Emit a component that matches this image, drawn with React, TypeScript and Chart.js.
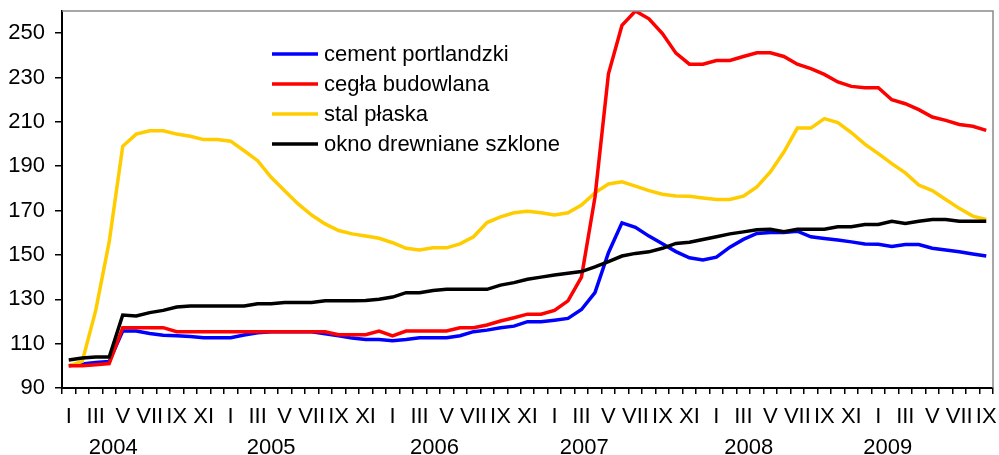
import React, { useEffect, useRef } from 'react';
import { Chart, registerables } from 'chart.js';

Chart.register(...registerables);

const FONT = '"Liberation Sans", Arial, sans-serif';
const FONT_SIZE = 22;

// ---- data ----
const years = ['2004', '2005', '2006', '2007', '2008', '2009'];
const monthTickLabels = ['I', '', 'III', '', 'V', '', 'VII', '', 'IX', '', 'XI', ''];
const monthsPerYear = [12, 12, 12, 12, 12, 9];
const yTickValues = [90, 110, 130, 150, 170, 190, 210, 230, 250];

const cement = [
  100, 100.8, 101.5, 102, 115.7, 115.7, 114.6, 113.8, 113.6, 113.2, 112.7, 112.7,
  112.7, 113.9, 114.9, 115.4, 115.4, 115.4, 115.4, 114.5, 113.5, 112.5, 111.9, 111.9,
  111.3, 111.9, 112.7, 112.7, 112.7, 113.6, 115.4, 116.1, 117.2, 117.9, 119.9, 119.9,
  120.6, 121.4, 125.4, 133, 151, 164.5, 162.5, 158.5, 155, 151.5, 148.7, 147.7,
  149, 153.5, 157, 159.7, 160.1, 160.1, 160.7, 158.2, 157.4, 156.7, 155.9, 154.9,
  154.8, 153.8, 154.7, 154.7, 153, 152.2, 151.4, 150.4, 149.5,
];
const cegla = [
  100, 100, 100.5, 101, 117.2, 117.2, 117.2, 117.2, 115.4, 115.4, 115.4, 115.4,
  115.4, 115.4, 115.4, 115.4, 115.4, 115.4, 115.4, 115.4, 114, 114, 114, 115.7,
  113.5, 115.7, 115.7, 115.7, 115.7, 117.2, 117.2, 118.4, 120.2, 121.7, 123.3, 123.3,
  125, 129.3, 140, 176, 231.7, 253.5, 260, 256.5, 249.8, 241, 236, 236,
  237.7, 237.7, 239.5, 241.2, 241.2, 239.5, 236, 234, 231.4, 228, 226, 225.4,
  225.4, 220, 218.2, 215.5, 212.2, 210.7, 208.8, 208, 206.2,
];
const stal = [
  100, 102, 125, 156, 199, 204.5, 206, 206, 204.5, 203.5, 202, 202,
  201.3, 197, 192.5, 185, 179, 173, 168, 164, 161, 159.5, 158.5, 157.5,
  155.5, 153, 152.2, 153.2, 153.2, 155, 158.2, 164.6, 167.2, 169, 169.7, 169,
  168, 169, 172.5, 178, 182, 183, 181, 179, 177.4, 176.6, 176.5, 175.7,
  175, 175, 176.5, 180.7, 187.4, 196.4, 207.2, 207.2, 211.5, 209.7, 205.2, 200,
  195.7, 191.2, 187, 181.5, 179, 175, 171, 167.5, 166,
];
const okno = [
  102.6, 103.5, 104, 104, 122.9, 122.5, 124, 125, 126.5, 127, 127, 127,
  127, 127, 128, 128, 128.6, 128.6, 128.6, 129.3, 129.3, 129.3, 129.5, 130,
  131, 133, 133, 134, 134.5, 134.5, 134.5, 134.5, 136.4, 137.5, 139, 140,
  141, 141.7, 142.5, 144.6, 147, 149.5, 150.7, 151.4, 153, 155.2, 155.7, 157,
  158.2, 159.5, 160.4, 161.4, 161.6, 160.5, 161.6, 161.6, 161.6, 162.7, 162.7, 163.7,
  163.7, 165.2, 164.2, 165.2, 166, 166, 165.2, 165.2, 165.2,
];

const seriesNames = ['cement portlandzki', 'cegła budowlana', 'stal płaska', 'okno drewniane szklone'];

// build category labels
const categories: string[] = [];
monthsPerYear.forEach((n) => {
  for (let m = 0; m < n; m++) categories.push(monthTickLabels[m]);
});

// year label offsets (in months from the start of each year) – layout only
const yearOffsets = [3.3, 3.0, 3.1, 2.2, 2.4, 0.7];

const decorPlugin = {
  id: 'decor',
  afterDraw(chart: any) {
    const { ctx, chartArea: a, scales } = chart;
    ctx.save();
    // gray plot-area border (top & right)
    ctx.strokeStyle = '#8a8a8a';
    ctx.lineWidth = 1.5;
    ctx.beginPath();
    ctx.moveTo(a.left, a.top);
    ctx.lineTo(a.right, a.top);
    ctx.lineTo(a.right, a.bottom);
    ctx.stroke();

    // year labels
    const xs = scales.x;
    ctx.font = `${FONT_SIZE}px ${FONT}`;
    ctx.fillStyle = '#000';
    ctx.textAlign = 'center';
    ctx.textBaseline = 'middle';
    let start = 0;
    years.forEach((y, k) => {
      const px = xs.getPixelForValue(start + yearOffsets[k]);
      ctx.fillText(y, px, 448);
      start += monthsPerYear[k];
    });

    // legend inside plot
    const lx = a.left + 210;
    const ly = a.top + 43;
    const rowH = 30;
    chart.data.datasets.forEach((ds: any, i: number) => {
      const y = ly + i * rowH;
      ctx.strokeStyle = ds.borderColor;
      ctx.lineWidth = 3.5;
      ctx.beginPath();
      ctx.moveTo(lx, y);
      ctx.lineTo(lx + 46, y);
      ctx.stroke();
      ctx.fillStyle = '#000';
      ctx.textAlign = 'left';
      ctx.textBaseline = 'middle';
      ctx.fillText(ds.label, lx + 52, y + 1);
    });
    ctx.restore();
  },
};

export default function App() {
  const ref = useRef<HTMLCanvasElement | null>(null);
  useEffect(() => {
    if (!ref.current) return;
    const mk = (label: string, data: number[], color: string, order: number) => ({
      label,
      data,
      borderColor: color,
      backgroundColor: color,
      borderWidth: 3.5,
      pointRadius: 0,
      tension: 0,
      fill: false,
      order,
    });
    const chart = new Chart(ref.current, {
      type: 'line',
      data: {
        labels: categories,
        datasets: [
          mk(seriesNames[0], cement, '#0000FF', 3),
          mk(seriesNames[1], cegla, '#FF0000', 1),
          mk(seriesNames[2], stal, '#FFCC00', 2),
          mk(seriesNames[3], okno, '#000000', 0),
        ],
      },
      options: {
        animation: false,
        responsive: false,
        maintainAspectRatio: false,
        layout: { padding: { left: 0, right: 6, top: 11, bottom: 0 } },
        plugins: { legend: { display: false }, tooltip: { enabled: false } },
        scales: {
          x: {
            type: 'category',
            offset: true,
            grid: {
              display: true,
              drawOnChartArea: false,
              drawTicks: true,
              tickLength: 6,
              offset: true,
              color: '#000',
              lineWidth: 1.5,
            },
            border: { display: true, color: '#000', width: 2 },
            ticks: {
              autoSkip: false,
              maxRotation: 0,
              minRotation: 0,
              padding: 10,
              color: '#000',
              font: { family: FONT, size: FONT_SIZE },
            },
            afterFit: (s: any) => {
              s.height = 67;
              s.paddingLeft = 0;
              s.paddingRight = 0;
            },
          },
          y: {
            min: 90,
            max: 260,
            grid: {
              display: true,
              drawOnChartArea: false,
              drawTicks: true,
              tickLength: 7,
              color: '#000',
              lineWidth: 1.5,
            },
            border: { display: true, color: '#000', width: 2 },
            ticks: {
              padding: 10,
              color: '#000',
              font: { family: FONT, size: FONT_SIZE },
            },
            afterBuildTicks: (s: any) => {
              s.ticks = yTickValues.map((v) => ({ value: v }));
            },
            afterFit: (s: any) => {
              s.width = 62;
              s.paddingTop = 0;
              s.paddingBottom = 0;
            },
          },
        },
      },
      plugins: [decorPlugin],
    });
    return () => chart.destroy();
  }, []);
  return (
    <div style={{ position: 'fixed', left: 0, top: 0, width: 999, height: 455, background: '#fff' }}>
      <canvas ref={ref} width={999} height={455} style={{ display: 'block' }} />
    </div>
  );
}
